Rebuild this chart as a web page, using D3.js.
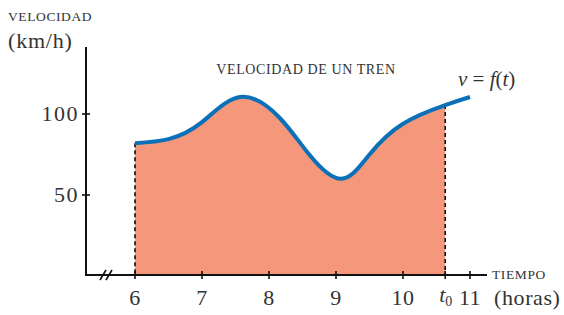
<!DOCTYPE html>
<meta charset="utf-8">
<script src="https://d3js.org/d3.v7.min.js"></script>
<style>
  body { margin: 0; background: #fff; }
</style>
<div id="chart"></div>
<script>
// Data
const hours = [6, 6.5, 7.0, 7.57, 8.15, 8.6, 9.08, 9.5, 10.0, 10.63, 11];
const speed = [82, 84.5, 95, 110.5, 98, 75, 60, 75, 94, 105.5, 110.5];
const xTicks = [6, 7, 8, 9, 10, 11];
const yTicks = [50, 100];
const t0 = 10.63;

const W = 564, H = 315;
const serif = "'Liberation Serif', 'DejaVu Serif', serif";
const svg = d3.select("#chart").append("svg")
  .attr("width", W).attr("height", H)
  .style("font-family", serif);

// scales
const x = d3.scaleLinear().domain([6, 11]).range([135, 470]);
const y = d3.scaleLinear().domain([0, 100]).range([276, 114]);

const data = hours.map((t, i) => ({ t: t, v: speed[i] }));
const curve = d3.curveNatural;
const axisY = 275;

const fillData = data.filter(d => d.t <= t0);
const line = d3.line().x(d => x(d.t)).y(d => y(d.v)).curve(curve);
const fullPath = line(data);

// fill under the curve, clipped to [6, t0]
svg.append("clipPath").attr("id", "clip")
  .append("rect")
  .attr("x", x(6)).attr("y", 0)
  .attr("width", x(t0) - x(6)).attr("height", H);
svg.append("path")
  .attr("fill", "#f4977a")
  .attr("clip-path", "url(#clip)")
  .attr("d", fullPath + `L${x(11)},${axisY}L${x(6)},${axisY}Z`);

// dashed verticals
[fillData[0], fillData[fillData.length - 1]].forEach(d => {
  svg.append("line")
    .attr("x1", x(d.t)).attr("x2", x(d.t))
    .attr("y1", y(d.v)).attr("y2", axisY)
    .attr("stroke", "#000").attr("stroke-width", 1.5)
    .attr("stroke-dasharray", "4,3");
});

// curve
svg.append("path")
  .attr("fill", "none")
  .attr("stroke", "#0a70b8")
  .attr("stroke-width", 4)
  .attr("d", fullPath);

// axes
const x0 = 86;
svg.append("line").attr("x1", x0).attr("x2", x0).attr("y1", 47).attr("y2", axisY)
  .attr("stroke", "#111").attr("stroke-width", 2);
svg.append("line").attr("x1", x0 - 1).attr("x2", 487).attr("y1", axisY).attr("y2", axisY)
  .attr("stroke", "#111").attr("stroke-width", 2);

// axis break marks
[103, 109].forEach(bx => {
  svg.append("line").attr("x1", bx - 3).attr("x2", bx + 3)
    .attr("y1", axisY + 5).attr("y2", axisY - 5)
    .attr("stroke", "#111").attr("stroke-width", 1.6);
});

// x ticks
xTicks.concat([t0]).forEach(t => {
  svg.append("line").attr("x1", x(t)).attr("x2", x(t))
    .attr("y1", axisY - 4).attr("y2", axisY + 4)
    .attr("stroke", "#111").attr("stroke-width", 1.6);
});
xTicks.forEach(t => {
  svg.append("text").attr("x", x(t)).attr("y", 305)
    .attr("text-anchor", "middle").attr("font-size", 22).attr("fill", "#333")
    .attr("letter-spacing", 0.5).text(t);
});
const t0Lab = svg.append("text").attr("x", x(t0) - 6).attr("y", 302)
  .attr("font-size", 22).attr("font-style", "italic").attr("fill", "#333");
t0Lab.append("tspan").text("t");
t0Lab.append("tspan").attr("font-size", 14).attr("font-style", "normal").attr("dy", 4).text("0");

// y ticks
yTicks.forEach(v => {
  svg.append("line").attr("x1", x0 - 4).attr("x2", x0 + 4)
    .attr("y1", y(v)).attr("y2", y(v))
    .attr("stroke", "#111").attr("stroke-width", 1.6);
  svg.append("text").attr("x", 79).attr("y", y(v) + 7)
    .attr("text-anchor", "end").attr("font-size", 22).attr("fill", "#333")
    .attr("letter-spacing", 1.5).text(v);
});

// labels
function label(tx, ty, size, str, anchor, ls) {
  return svg.append("text").attr("x", tx).attr("y", ty)
    .attr("font-size", size).attr("fill", "#333")
    .attr("letter-spacing", ls || 0)
    .attr("text-anchor", anchor || "start").text(str);
}
label(8, 21, 13.5, "VELOCIDAD", "start", 0.6);
label(8, 48, 22, "(km/h)", "start", 0.8);
label(492, 279, 13.5, "TIEMPO", "start", 0.6);
label(494, 305, 22, "(horas)", "start", 0.6);
label(306, 74, 14, "VELOCIDAD DE UN TREN", "middle", 0.6);

const eq = svg.append("text").attr("x", 458).attr("y", 86).attr("font-size", 21).attr("fill", "#333");
eq.append("tspan").attr("font-style", "italic").text("v");
eq.append("tspan").text(" = ");
eq.append("tspan").attr("font-style", "italic").text("f");
eq.append("tspan").text("(");
eq.append("tspan").attr("font-style", "italic").text("t");
eq.append("tspan").text(")");
</script>
